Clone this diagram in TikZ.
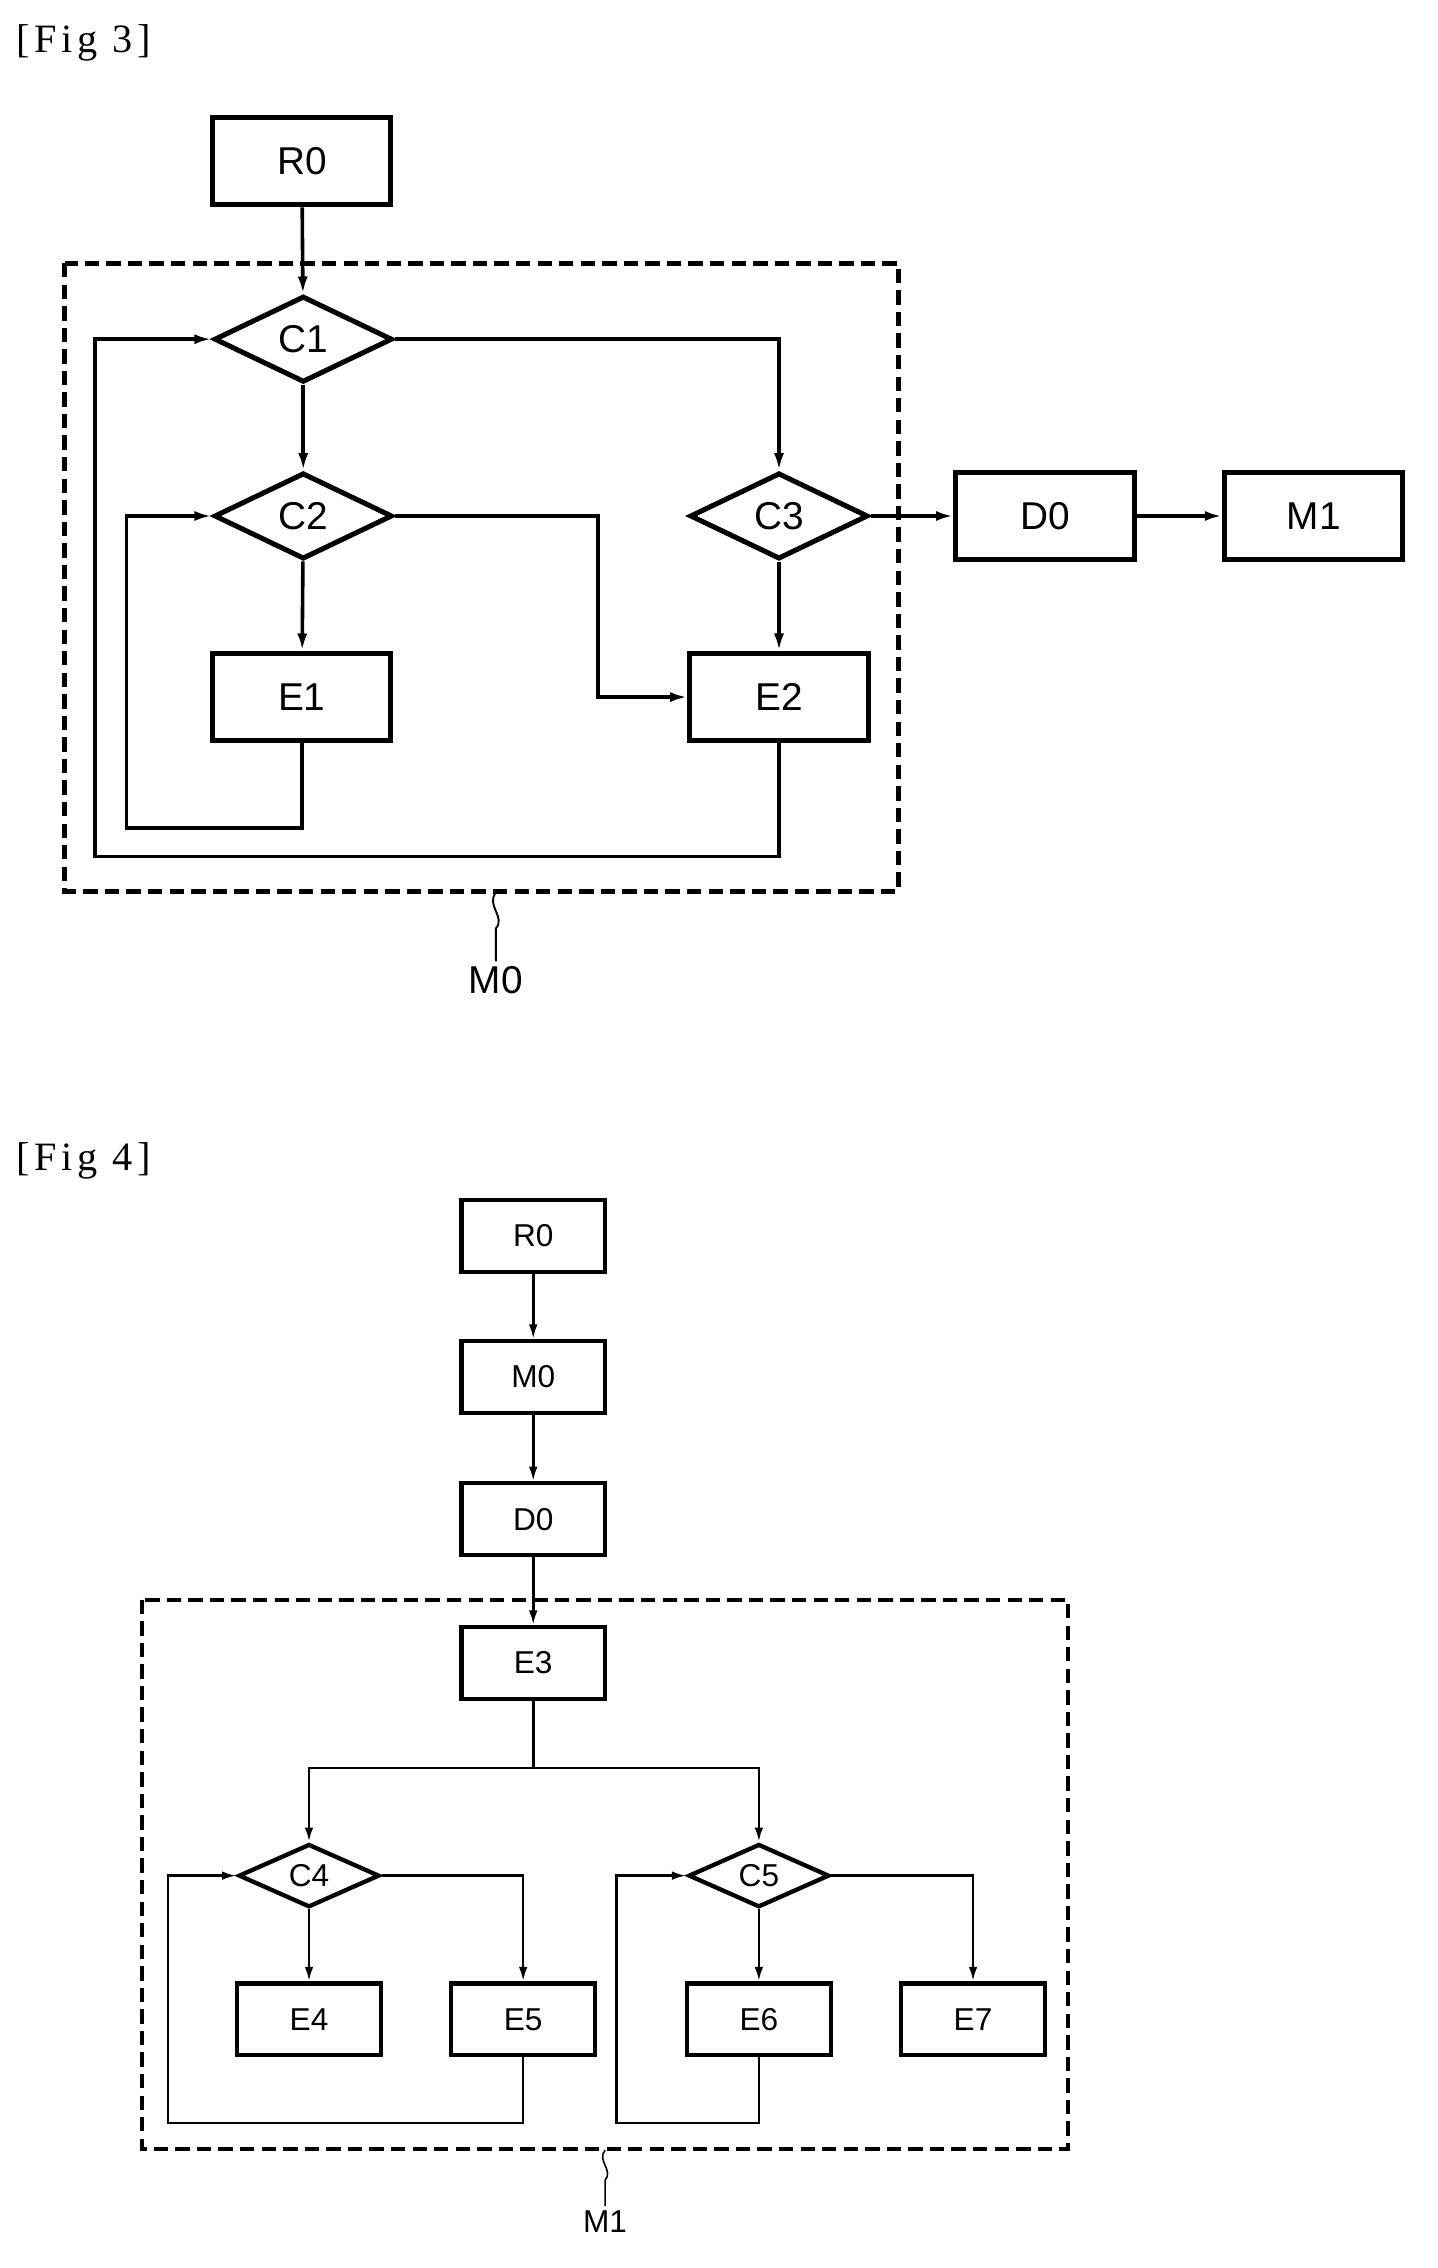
\documentclass[tikz,border=0pt]{standalone}
\usepackage{fontspec}
\setmainfont{Liberation Serif}
\setsansfont{Liberation Sans}
\usetikzlibrary{arrows.meta,shapes.geometric}
\begin{document}
\begin{tikzpicture}[x=1pt,y=-1pt,
 box3/.style={draw,line width=3.5pt,minimum width=124pt,minimum height=61pt,inner sep=0pt,font=\sffamily\fontsize{27}{27}\selectfont},
 dia3/.style={draw,line width=3.5pt,diamond,aspect=2.07,minimum width=124pt,minimum height=60pt,inner sep=0pt,font=\sffamily\fontsize{27}{27}\selectfont},
 box4/.style={draw,line width=3pt,minimum width=100pt,minimum height=50pt,inner sep=0pt,font=\sffamily\fontsize{22}{22}\selectfont},
 dia4/.style={draw,line width=3pt,diamond,aspect=2.2,minimum width=98pt,minimum height=44pt,inner sep=0pt,font=\sffamily\fontsize{22}{22}\selectfont},
 c3/.style={line width=2.5pt,-{Latex[length=12pt,width=7pt]}},
 c4/.style={line width=1.8pt,-{Latex[length=10pt,width=6pt]}},
 l4/.style={line width=1.8pt},
 dsh3/.style={draw,line width=3.5pt,dash pattern=on 10pt off 5pt},
 dsh4/.style={draw,line width=3pt,dash pattern=on 10pt off 5pt},
 lab/.style={font=\sffamily\fontsize{27}{27}\selectfont},
 fig/.style={anchor=west,font=\fontsize{28}{28}\selectfont\addfontfeatures{LetterSpace=12}}]
\useasboundingbox (0,0) rectangle (1000,1578);
% Fig 3
\node[fig] (f3) at (8,30) {[Fig 3]};
\draw[dsh3] (45,183) rectangle (625,620);
\node[box3] (r0) at (210,112) {R0};
\node[dia3] (c1) at (211,236) {C1};
\node[dia3] (c2) at (211,359) {C2};
\node[dia3] (c3) at (542,359) {C3};
\node[box3] (e1) at (210,485) {E1};
\node[box3] (e2) at (542,485) {E2};
\node[box3] (d0) at (727,359) {D0};
\node[box3] (m1) at (914,359) {M1};
\draw[c3] (r0) -- (c1);
\draw[c3] (c1) -- (c2);
\draw[c3] (c2) -- (e1);
\draw[c3] (c3) -- (e2);
\draw[c3] (c1.east) -| (c3.north);
\draw[c3] (c2.east) -- (416,359) |- (e2.west);
\draw[c3] (e1.south) |- (88,576) |- (c2.west);
\draw[c3] (e2.south) |- (66,596) |- (c1.west);
\draw[c3] (c3.east) -- (d0.west);
\draw[c3] (d0.east) -- (m1.west);
\node[lab] (m0l) at (345,682) {M0};
\coordinate (w3) at (345,621);
\draw[line width=1.3pt] (w3) .. controls (338,630) and (352,638) .. (345,646) -- (m0l.north);
% Fig 4
\node[fig] (f4) at (8,808) {[Fig 4]};
\draw[dsh4] (99,1113) rectangle (743,1495);
\node[box4] (r0b) at (371,860) {R0};
\node[box4] (m0b) at (371,958) {M0};
\node[box4] (d0b) at (371,1057) {D0};
\node[box4] (e3) at (371,1157) {E3};
\node[dia4] (c4) at (215,1305) {C4};
\node[dia4] (c5) at (528,1305) {C5};
\node[box4] (e4) at (215,1405) {E4};
\node[box4] (e5) at (364,1405) {E5};
\node[box4] (e6) at (528,1405) {E6};
\node[box4] (e7) at (677,1405) {E7};
\draw[c4] (r0b) -- (m0b);
\draw[c4] (m0b) -- (d0b);
\draw[c4] (d0b) -- (e3);
\coordinate (sp) at (371,1230);
\draw[l4] (e3) -- (sp);
\draw[c4] (sp) -| (c4.north);
\draw[c4] (sp) -| (c5.north);
\draw[c4] (c4) -- (e4);
\draw[c4] (c5) -- (e6);
\draw[c4] (c4.east) -| (e5.north);
\draw[c4] (c5.east) -| (e7.north);
\draw[c4] (e5.south) |- (117,1477) |- (c4.west);
\draw[c4] (e6.south) |- (429,1477) |- (c5.west);
\node[font=\sffamily\fontsize{22}{22}\selectfont] (m1l) at (421,1546) {M1};
\draw[line width=1.1pt] (421,1496) .. controls (415,1503) and (427,1510) .. (421,1517) -- (m1l.north);
\end{tikzpicture}
\end{document}
